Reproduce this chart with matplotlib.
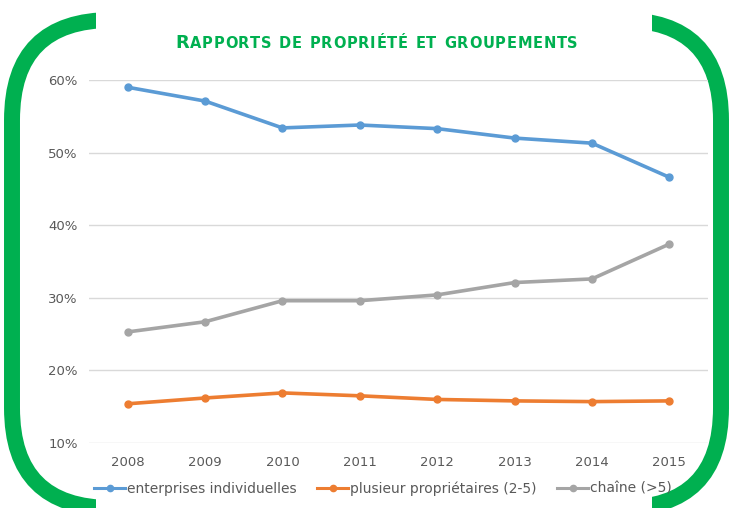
import matplotlib
matplotlib.use("Agg")
import matplotlib.pyplot as plt
from matplotlib.patches import FancyBboxPatch, Rectangle
from matplotlib.ticker import FuncFormatter

# Colours
GREEN = '#00B050'
BLUE = '#5B9BD5'
ORANGE = '#ED7D31'
GREY = '#A5A5A5'
TEXT = '#595959'
GRID = '#D9D9D9'

years = ['2008', '2009', '2010', '2011', '2012', '2013', '2014', '2015']
individuelles = [59.0, 57.1, 53.4, 53.8, 53.3, 52.0, 51.3, 46.6]
plusieurs = [15.4, 16.2, 16.9, 16.5, 16.0, 15.8, 15.7, 15.8]
chaine = [25.3, 26.7, 29.6, 29.6, 30.4, 32.1, 32.6, 37.4]

W, H = 733, 508
fig = plt.figure(figsize=(W / 100, H / 100), dpi=100)
fig.patch.set_facecolor('white')

# background frame: green rounded bracket shape, in pixel coords
bg = fig.add_axes([0, 0, 1, 1], zorder=0)
bg.set_xlim(0, W)
bg.set_ylim(H, 0)
bg.axis('off')
frame = FancyBboxPatch((12, 20), 709, 488, boxstyle="round,pad=0,rounding_size=100",
                       fill=False, edgecolor=GREEN, linewidth=11.5)
bg.add_patch(frame)
bg.add_patch(Rectangle((96, -5), 556, 45, facecolor='white', edgecolor='none', zorder=3))
bg.add_patch(Rectangle((96, 470), 556, 50, facecolor='white', edgecolor='none', zorder=3))

# title in small caps, letter by letter so the tracking can be stretched
title = 'RAPPORTS DE PROPRIÉTÉ ET GROUPEMENTS'
renderer = fig.canvas.get_renderer()
parts = []
for i, ch in enumerate(title):
    size = 13 if i == 0 else 10.5
    t = bg.text(0, 48, ch, color=GREEN, fontsize=size, fontweight='bold',
                ha='left', va='baseline', zorder=5)
    w = t.get_window_extent(renderer).width if ch != ' ' else 0
    parts.append((t, ch, w))
space_w = 6.0
natural = sum(w if ch != ' ' else space_w for t, ch, w in parts)
x0, x1 = 175, 578
track = (x1 - x0 - natural) / (len(parts) - 1)
xpos = x0
for t, ch, w in parts:
    t.set_x(xpos)
    xpos += (w if ch != ' ' else space_w) + track

ax = fig.add_axes([89 / W, 1 - 443 / H, (708 - 89) / W, (443 - 80) / H], zorder=2)
ax.patch.set_alpha(0)

x = range(len(years))
ax.plot(x, individuelles, color=BLUE, lw=2.6, marker='o', ms=5, label='enterprises individuelles')
ax.plot(x, plusieurs, color=ORANGE, lw=2.6, marker='o', ms=5, label='plusieur propriétaires (2-5)')
ax.plot(x, chaine, color=GREY, lw=2.6, marker='o', ms=5, label='chaîne (>5)')

ax.set_xlim(-0.5, len(years) - 0.5)
ax.set_ylim(10, 60)
ax.set_yticks([10, 20, 30, 40, 50, 60])
ax.yaxis.set_major_formatter(FuncFormatter(lambda v, p: f'{v:.0f}%'))
ax.set_xticks(list(x))
ax.set_xticklabels(years)
ax.grid(True, axis='y', color=GRID, lw=1)
ax.set_axisbelow(True)
for s in ax.spines.values():
    s.set_visible(False)
ax.tick_params(length=0, colors=TEXT, labelsize=9.5)
ax.tick_params(axis='y', pad=8)
ax.tick_params(axis='x', pad=9)

leg = ax.legend(loc='center', bbox_to_anchor=(0.475, -0.125), ncol=3, frameon=False,
                fontsize=10, labelcolor=TEXT, handlelength=2.2, handletextpad=0.15,
                columnspacing=1.5)
for h in leg.legend_handles:
    h.set_linewidth(2.2)
    h.set_markersize(4.5)

fig.savefig('out.png', dpi=100, facecolor='white')
